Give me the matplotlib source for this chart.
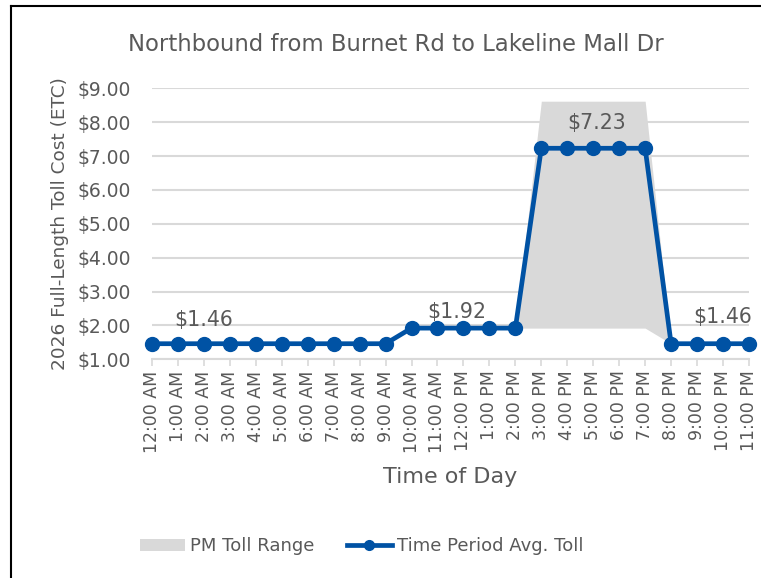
import matplotlib.pyplot as plt
from matplotlib.lines import Line2D
from matplotlib.patches import Patch

# hourly labels
hours = ["12:00 AM", "1:00 AM", "2:00 AM", "3:00 AM", "4:00 AM", "5:00 AM",
         "6:00 AM", "7:00 AM", "8:00 AM", "9:00 AM", "10:00 AM", "11:00 AM",
         "12:00 PM", "1:00 PM", "2:00 PM", "3:00 PM", "4:00 PM", "5:00 PM",
         "6:00 PM", "7:00 PM", "8:00 PM", "9:00 PM", "10:00 PM", "11:00 PM"]

avg_toll = [1.46, 1.46, 1.46, 1.46, 1.46, 1.46, 1.46, 1.46, 1.46, 1.46,
            1.92, 1.92, 1.92, 1.92, 1.92,
            7.23, 7.23, 7.23, 7.23, 7.23,
            1.46, 1.46, 1.46, 1.46]

# PM toll range (2 PM .. 8 PM)
pm_idx = [14, 15, 16, 17, 18, 19, 20]
pm_low = [1.92, 1.92, 1.92, 1.92, 1.92, 1.92, 1.46]
pm_high = [1.92, 8.62, 8.62, 8.62, 8.62, 8.62, 1.46]

# (index, text) for the data labels
labels = [(2, "$1.46"), (12, "$1.92"), (17, "$7.23"), (22, "$1.46")]
label_off = [(0, 24), (-7, 16), (3, 25), (0, 27)]

BLUE = "#0052A4"
GREY_TXT = "#595959"
GRID = "#D9D9D9"

plt.rcParams['font.family'] = ['DejaVu Sans']

fig = plt.figure(figsize=(7.61, 5.78), dpi=100)
ax = fig.add_axes([0.1997, 0.3784, 0.7845, 0.4688])

x = list(range(len(hours)))
ax.fill_between(pm_idx, pm_low, pm_high, color=GRID, linewidth=0, zorder=1)
ax.plot(x, avg_toll, color=BLUE, linewidth=3.4, marker="o", markersize=10,
        zorder=3, clip_on=False)

for (i, txt), (dx, dy) in zip(labels, label_off):
    ax.annotate(txt, (i, avg_toll[i]), xytext=(dx, dy), textcoords="offset pixels",
                ha="center", va="center", fontsize=14.8, color=GREY_TXT)

ax.set_xlim(0, 23)
ax.set_ylim(1, 9)
ax.set_yticks(range(1, 10))
ax.set_yticklabels([f"${v:.2f}" for v in range(1, 10)])
ax.set_xticks(x)
ax.set_xticklabels(hours, rotation=90)
ax.grid(axis="y", color=GRID, linewidth=1.5, zorder=0)
ax.set_axisbelow(True)
for s in ["top", "right", "left"]:
    ax.spines[s].set_visible(False)
ax.spines["bottom"].set_color(GRID)
ax.spines["bottom"].set_linewidth(1.5)
ax.tick_params(axis="y", length=0, labelsize=13.5, labelcolor=GREY_TXT, pad=15)
ax.tick_params(axis="x", length=5, color=GRID, width=1.2, labelsize=12.5,
               labelcolor=GREY_TXT, pad=3)

ax.set_title("Northbound from Burnet Rd to Lakeline Mall Dr", fontsize=16.4,
             color=GREY_TXT, pad=27, x=0.409)
ax.set_ylabel("2026 Full-Length Toll Cost (ETC)", fontsize=13.3, color=GREY_TXT, labelpad=6)
ax.set_xlabel("Time of Day", fontsize=16, color=GREY_TXT, labelpad=10)

handles = [Patch(facecolor=GRID, edgecolor="none"),
           Line2D([0], [0], color=BLUE, linewidth=3.4, marker="o", markersize=7)]
fig.legend(handles, ["PM Toll Range", "Time Period Avg. Toll"], loc="center",
           bbox_to_anchor=(0.475, 0.055), ncol=2, frameon=False, fontsize=13,
           labelcolor=GREY_TXT, handlelength=2.5, handletextpad=0.28, columnspacing=1.8)

# outer border (left and top edges only visible)
fig.add_artist(Line2D([11 / 761, 11 / 761], [0, 1 - 6 / 578], color="black",
                      linewidth=1.5, transform=fig.transFigure))
fig.add_artist(Line2D([11 / 761, 1], [1 - 6 / 578, 1 - 6 / 578], color="black",
                      linewidth=1.5, transform=fig.transFigure))

fig.savefig("out.png", dpi=100)
